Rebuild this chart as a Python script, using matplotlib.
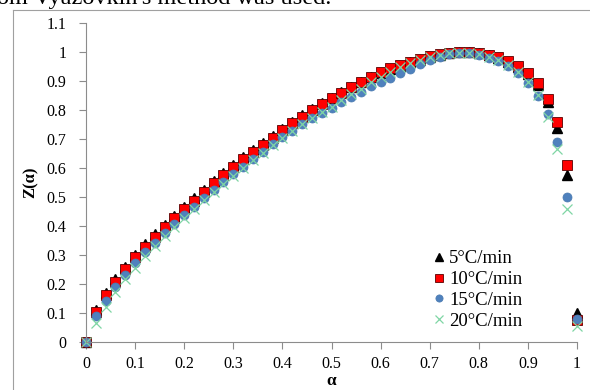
import numpy as np
import matplotlib.pyplot as plt
from matplotlib.lines import Line2D

plt.rcParams['font.family'] = ['Liberation Serif', 'DejaVu Serif']
plt.rcParams['mathtext.default'] = 'regular'

alpha = np.round(np.arange(0, 1.0001, 0.02), 2)

z_5 = [0.0, 0.112, 0.170, 0.216, 0.259, 0.300, 0.337, 0.371, 0.403, 0.434,
       0.465, 0.495, 0.524, 0.554, 0.583, 0.610, 0.637, 0.662, 0.686, 0.711,
       0.736, 0.759, 0.782, 0.804, 0.824, 0.843, 0.862, 0.880, 0.897, 0.913,
       0.929, 0.941, 0.952, 0.964, 0.973, 0.983, 0.990, 0.996, 0.999, 1.0,
       0.995, 0.989, 0.980, 0.967, 0.949, 0.924, 0.887, 0.828, 0.737, 0.576,
       0.100]
z_10 = [0.0, 0.105, 0.162, 0.208, 0.251, 0.292, 0.329, 0.363, 0.395, 0.426,
        0.457, 0.487, 0.516, 0.547, 0.576, 0.603, 0.630, 0.655, 0.679, 0.705,
        0.730, 0.754, 0.777, 0.800, 0.821, 0.842, 0.860, 0.880, 0.898, 0.915,
        0.932, 0.944, 0.955, 0.967, 0.976, 0.986, 0.992, 0.998, 0.999, 1.0,
        0.995, 0.990, 0.982, 0.970, 0.953, 0.929, 0.892, 0.837, 0.760, 0.610,
        0.076]
z_15 = [0.0, 0.090, 0.141, 0.191, 0.231, 0.271, 0.309, 0.342, 0.375, 0.407,
        0.438, 0.467, 0.495, 0.524, 0.551, 0.579, 0.605, 0.630, 0.656, 0.682,
        0.706, 0.728, 0.751, 0.771, 0.788, 0.806, 0.829, 0.846, 0.863, 0.883,
        0.895, 0.909, 0.926, 0.941, 0.958, 0.972, 0.984, 0.992, 0.997, 0.997,
        0.990, 0.980, 0.970, 0.952, 0.929, 0.892, 0.848, 0.785, 0.691, 0.499,
        0.080]
z_20 = [0.0, 0.067, 0.122, 0.173, 0.216, 0.254, 0.295, 0.330, 0.364, 0.397,
        0.429, 0.459, 0.488, 0.518, 0.546, 0.574, 0.601, 0.627, 0.653, 0.679,
        0.704, 0.727, 0.751, 0.773, 0.793, 0.812, 0.835, 0.855, 0.873, 0.895,
        0.915, 0.932, 0.950, 0.962, 0.972, 0.982, 0.990, 0.995, 0.998, 0.998,
        0.992, 0.983, 0.972, 0.955, 0.932, 0.897, 0.852, 0.777, 0.664, 0.457,
        0.055]
labels = ['5°C/min', '10°C/min', '15°C/min', '20°C/min']

fig = plt.figure(figsize=(5.9, 3.9), dpi=100)
ax = fig.add_axes([86 / 590, 1 - 342 / 390, 491 / 590, 319 / 390])

ax.plot(alpha, z_5, ls='none', marker='^', ms=6.5, color='black', label=labels[0], clip_on=False)
ax.plot(alpha, z_10, ls='none', marker='s', ms=7.2, mfc='#ff0000', mec='#5a0000', mew=0.6,
        label=labels[1], clip_on=False)
ax.plot(alpha, z_15, ls='none', marker='o', ms=6.5, mfc='#4f81bd', mec='#4a7ab0', mew=0.5,
        label=labels[2], clip_on=False)
ax.plot(alpha, z_20, ls='none', marker='x', ms=6.5, mew=0.9, color='#7fd6a4', label=labels[3],
        clip_on=False)

ax.set_xlim(0, 1)
ax.set_ylim(0, 1.1)
ax.set_xticks(np.arange(0, 1.01, 0.1))
ax.set_yticks(np.arange(0, 1.11, 0.1))
ax.set_xticklabels(['%g' % round(v, 1) for v in np.arange(0, 1.01, 0.1)])
ax.set_yticklabels(['%g' % round(v, 1) for v in np.arange(0, 1.11, 0.1)])
ax.tick_params(direction='out', length=5, width=0.8, color='#8c8c8c', labelsize=11.5)
ax.tick_params(axis='y', pad=9)
ax.tick_params(axis='x', pad=5)
ax.spines['top'].set_visible(False)
ax.spines['right'].set_visible(False)
ax.spines['left'].set_color('#8c8c8c')
ax.spines['bottom'].set_color('#8c8c8c')

ax.set_ylabel('Z(α)', fontsize=12, fontweight='bold', labelpad=6)
ax.set_xlabel('α', fontsize=12.5, fontweight='bold', labelpad=1)

ax.legend(loc='lower left', bbox_to_anchor=(0.675, 0.0), frameon=False, fontsize=13.5,
          handletextpad=0.05, handlelength=1.0, labelspacing=0.2, borderaxespad=0.25,
          markerscale=0.8)

# frame around the chart and the cut sentence above it
fig.add_artist(Line2D([13 / 590, 13 / 590], [0, 1 - 10 / 390], color='#a0a0a0', lw=0.8))
fig.add_artist(Line2D([13 / 590, 1], [1 - 10 / 390, 1 - 10 / 390], color='#a0a0a0', lw=0.8))
fig.text(-0.005, 1 - 4 / 390, "om Vyazovkin's method was used.", fontsize=17.5, va='baseline')

fig.savefig('out.png', dpi=100)
